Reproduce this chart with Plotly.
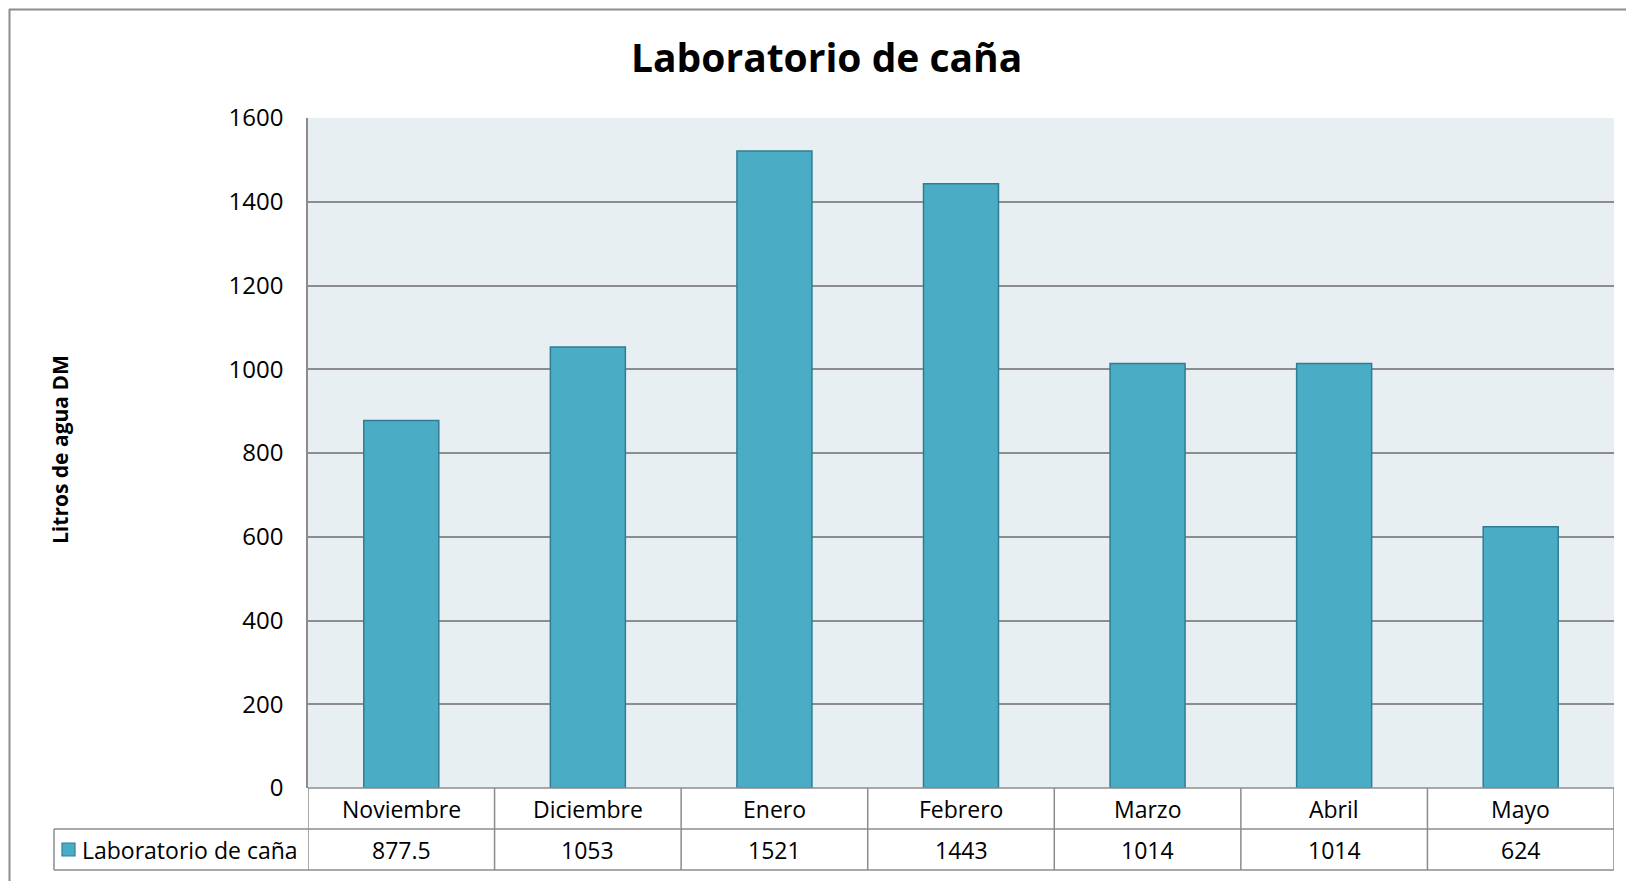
import plotly.graph_objects as go

meses = ["Noviembre", "Diciembre", "Enero", "Febrero", "Marzo", "Abril", "Mayo"]
litros = [877.5, 1053, 1521, 1443, 1014, 1014, 624]
serie = "Laboratorio de caña"
titulo = "Laboratorio de caña"
titulo_y = "Litros de agua DM"
y_ticks = [0, 200, 400, 600, 800, 1000, 1200, 1400, 1600]

# page offset of the plot div (body margin)
OFF = 8
W, H = 1634, 881
L, T = 308 - OFF, 118 - OFF
R = W - (1614 - OFF)
B = H - (788 - OFF)
PW, PH = W - L - R, H - T - B

BAR = "#4BACC6"
BAR_EDGE = "#2F7D94"
GRID = "#8C8C8C"
FONT = "Open Sans, sans-serif"


def px(x):
    # page pixel -> paper x
    return (x - OFF - L) / PW


def py(y):
    # page pixel -> paper y
    return (H - B - (y - OFF)) / PH


fig = go.Figure()

fig.add_trace(go.Bar(
    x=list(range(len(meses))),
    y=litros,
    name=serie,
    marker=dict(color=BAR, line=dict(color=BAR_EDGE, width=1.5)),
    showlegend=False,
))

shapes = []
line = dict(color=GRID, width=1.5)

# outer chart frame (top and left only visible)
shapes.append(dict(type="line", xref="paper", yref="paper", x0=px(9), x1=px(W + 20),
                   y0=py(9.5), y1=py(9.5), line=dict(color=GRID, width=2)))
shapes.append(dict(type="line", xref="paper", yref="paper", x0=px(9.5), x1=px(9.5),
                   y0=py(9), y1=py(H + 20), line=dict(color=GRID, width=2)))

# data table below the plot
row1, row2 = py(829), py(870)
shapes.append(dict(type="line", xref="paper", yref="paper", x0=0, x1=1, y0=0, y1=0, line=line))
shapes.append(dict(type="line", xref="paper", yref="paper", x0=px(54), x1=1, y0=row1, y1=row1, line=line))
shapes.append(dict(type="line", xref="paper", yref="paper", x0=px(54), x1=1, y0=row2, y1=row2, line=line))
shapes.append(dict(type="line", xref="paper", yref="paper", x0=px(54), x1=px(54), y0=row1, y1=row2, line=line))
for i in range(len(meses) + 1):
    shapes.append(dict(type="line", xref="x", yref="paper", x0=i - 0.5, x1=i - 0.5,
                       y0=0, y1=row2, line=line))

# legend key in table
shapes.append(dict(type="rect", xref="paper", yref="paper", x0=px(62), x1=px(75),
                   y0=py(843), y1=py(856), fillcolor=BAR, line=dict(color=BAR_EDGE, width=1.2)))

annotations = []
txt = dict(size=23, color="#000000")
for i, (m, v) in enumerate(zip(meses, litros)):
    annotations.append(dict(x=i, y=(0 + row1) / 2, xref="x", yref="paper", text=m,
                            xanchor="center", yanchor="middle", showarrow=False, font=txt))
    annotations.append(dict(x=i, y=(row1 + row2) / 2, xref="x", yref="paper", text=f"{v:g}",
                            xanchor="center", yanchor="middle", showarrow=False, font=txt))

annotations.append(dict(x=px(80), y=(row1 + row2) / 2, xref="paper", yref="paper", text=serie,
                        xanchor="left", yanchor="middle", showarrow=False, font=txt))

annotations.append(dict(x=px(60), y=py(450), xref="paper", yref="paper", text=f"<b>{titulo_y}</b>",
                        textangle=-90, xanchor="center", yanchor="middle", showarrow=False,
                        font=dict(size=21, color="#000000")))

annotations.append(dict(x=px(826), y=py(57), xref="paper", yref="paper", text=f"<b>{titulo}</b>",
                        xanchor="center", yanchor="middle", showarrow=False,
                        font=dict(size=39, color="#000000")))

fig.update_layout(
    width=W, height=H,
    margin=dict(l=L, r=R, t=T, b=B, pad=0),
    paper_bgcolor="white",
    plot_bgcolor="#E8EFF3",
    font=dict(family=FONT, color="#000000"),
    bargap=0.598,
    shapes=shapes,
    annotations=annotations,
    xaxis=dict(range=[-0.5, len(meses) - 0.5], showticklabels=False, showgrid=False,
               zeroline=False, showline=False, fixedrange=True),
    yaxis=dict(range=[0, 1600], tickvals=y_ticks, showgrid=True, gridcolor=GRID, gridwidth=1.5,
               zeroline=False, showline=True, linecolor=GRID, linewidth=1.5,
               tickfont=dict(size=24), ticks="", ticklabelstandoff=18, fixedrange=True),
)

fig.write_html("out.html")
